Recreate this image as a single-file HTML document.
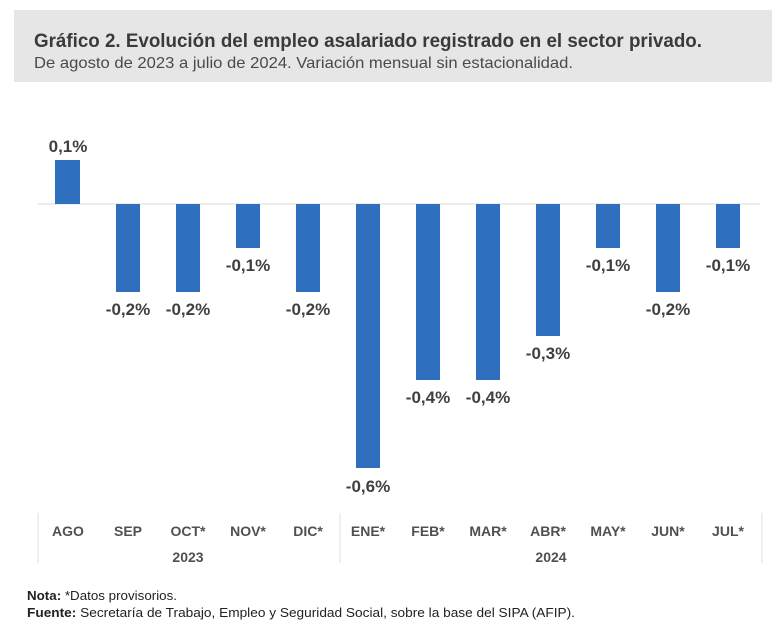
<!DOCTYPE html>
<html><head><meta charset="utf-8"><style>
body{margin:0;background:#fff;width:780px;height:636px;overflow:hidden;font-family:"Liberation Sans",sans-serif;}
</style></head><body>
<svg width="780" height="636" xmlns="http://www.w3.org/2000/svg" style="position:absolute;left:0;top:0">
<rect x="14" y="10" width="758" height="72" fill="#e6e6e6"/>
<text x="34" y="47" font-size="19" font-weight="bold" fill="#3a3a3a" font-family="Liberation Sans" textLength="668" lengthAdjust="spacingAndGlyphs">Gráfico 2. Evolución del empleo asalariado registrado en el sector privado.</text>
<text x="34" y="68" font-size="16" fill="#4a4a4a" font-family="Liberation Sans" textLength="539" lengthAdjust="spacingAndGlyphs">De agosto de 2023 a julio de 2024. Variación mensual sin estacionalidad.</text>
<line x1="38" y1="204" x2="760" y2="204" stroke="#d9d9d9" stroke-width="1"/>
<g fill="#2e6fbf">
<rect x="55" y="160" width="25" height="44"/>
<rect x="116" y="204" width="24" height="88"/>
<rect x="176" y="204" width="24" height="88"/>
<rect x="236" y="204" width="24" height="44"/>
<rect x="296" y="204" width="24" height="88"/>
<rect x="356" y="204" width="24" height="264"/>
<rect x="416" y="204" width="24" height="176"/>
<rect x="476" y="204" width="24" height="176"/>
<rect x="536" y="204" width="24" height="132"/>
<rect x="596" y="204" width="24" height="44"/>
<rect x="656" y="204" width="24" height="88"/>
<rect x="716" y="204" width="24" height="44"/>
</g>
<g font-size="17" font-weight="bold" fill="#404040" text-anchor="middle" font-family="Liberation Sans">
<text x="68" y="152">0,1%</text>
<text x="128" y="315">-0,2%</text>
<text x="188" y="315">-0,2%</text>
<text x="248" y="271">-0,1%</text>
<text x="308" y="315">-0,2%</text>
<text x="368" y="492">-0,6%</text>
<text x="428" y="403">-0,4%</text>
<text x="488" y="403">-0,4%</text>
<text x="548" y="359">-0,3%</text>
<text x="608" y="271">-0,1%</text>
<text x="668" y="315">-0,2%</text>
<text x="728" y="271">-0,1%</text>
</g>
<g stroke="#e0e0e0" stroke-width="1">
<line x1="38" y1="513" x2="38" y2="563"/>
<line x1="340" y1="513" x2="340" y2="563"/>
<line x1="762" y1="513" x2="762" y2="563"/>
</g>
<g font-size="14" font-weight="bold" fill="#505050" text-anchor="middle" font-family="Liberation Sans">
<text x="68" y="536">AGO</text><text x="128" y="536">SEP</text><text x="188" y="536">OCT*</text>
<text x="248" y="536">NOV*</text><text x="308" y="536">DIC*</text><text x="368" y="536">ENE*</text>
<text x="428" y="536">FEB*</text><text x="488" y="536">MAR*</text><text x="548" y="536">ABR*</text>
<text x="608" y="536">MAY*</text><text x="668" y="536">JUN*</text><text x="728" y="536">JUL*</text>
<text x="188" y="562">2023</text><text x="551" y="562">2024</text>
</g>
<text x="27" y="600" font-size="13" fill="#222" font-family="Liberation Sans" textLength="150" lengthAdjust="spacingAndGlyphs"><tspan font-weight="bold">Nota:</tspan> *Datos provisorios.</text>
<text x="27" y="617" font-size="13" fill="#222" font-family="Liberation Sans" textLength="548" lengthAdjust="spacingAndGlyphs"><tspan font-weight="bold">Fuente:</tspan> Secretaría de Trabajo, Empleo y Seguridad Social, sobre la base del SIPA (AFIP).</text>
</svg>
</body></html>
